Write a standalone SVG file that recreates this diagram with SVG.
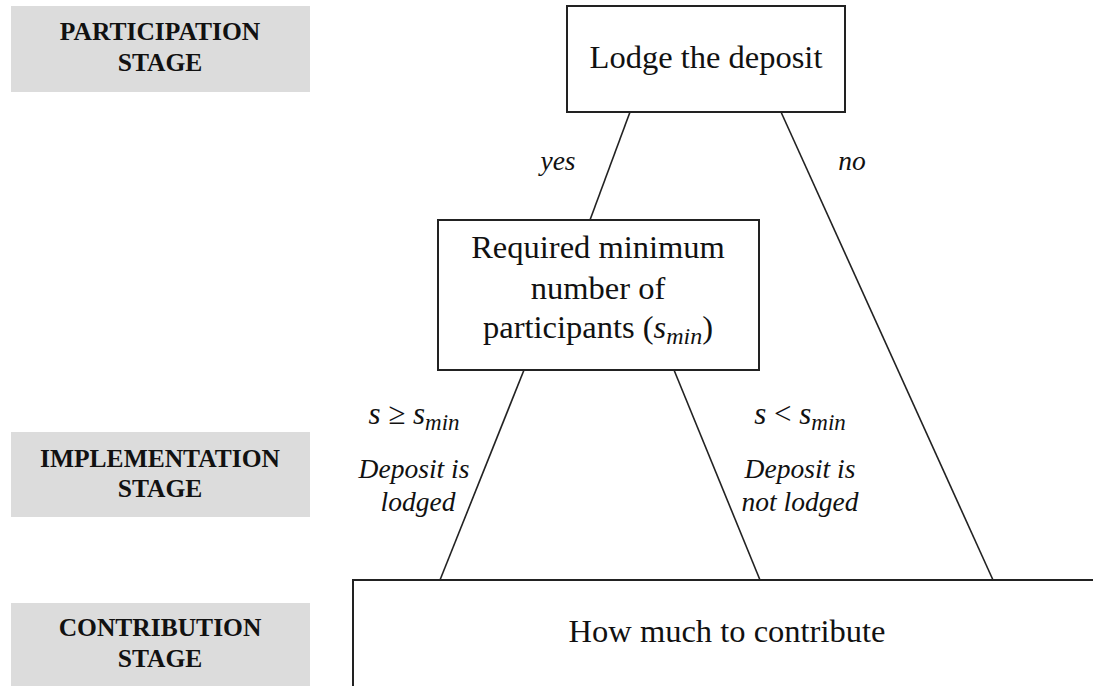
<svg xmlns="http://www.w3.org/2000/svg" width="1093" height="686" viewBox="0 0 1093 686">
<style>
.stage{fill:#dcdcdc;}
.st{font-family:"Liberation Serif","Times New Roman",serif;font-weight:bold;font-size:25.5px;fill:#111;text-anchor:middle;}
.box{fill:#fff;stroke:#222;stroke-width:2;}
.bt{font-family:"Liberation Serif","Times New Roman",serif;font-size:32.5px;fill:#111;text-anchor:middle;}
.lbl{font-family:"Liberation Serif","Times New Roman",serif;font-style:italic;font-size:27.5px;fill:#111;text-anchor:middle;}
.math{font-family:"Liberation Serif","Times New Roman",serif;font-size:31px;fill:#111;text-anchor:middle;}
.conn line{stroke:#222;stroke-width:1.6;}
</style>
<rect width="1093" height="686" fill="#fff"/>
<g id="stage-participation"><rect class="stage" x="11" y="6" width="299" height="86"/>
<text class="st" x="160" y="40">PARTICIPATION</text><text class="st" x="160" y="71">STAGE</text></g>
<g id="stage-implementation"><rect class="stage" x="11" y="432" width="299" height="85"/>
<text class="st" x="160" y="467">IMPLEMENTATION</text><text class="st" x="160" y="497">STAGE</text></g>
<g id="stage-contribution"><rect class="stage" x="11" y="603" width="299" height="90"/>
<text class="st" x="160" y="636">CONTRIBUTION</text><text class="st" x="160" y="667">STAGE</text></g>
<g class="conn" id="connectors">
<line x1="630" y1="112" x2="590" y2="220"/>
<line x1="781" y1="112" x2="993" y2="580"/>
<line x1="524" y1="370" x2="440" y2="580"/>
<line x1="674" y1="370" x2="760" y2="580"/>
</g>
<g id="lodge"><rect class="box" x="567" y="6" width="278" height="106"/>
<text class="bt" x="706" y="68">Lodge the deposit</text></g>
<g id="required"><rect class="box" x="438" y="220" width="321" height="150"/>
<text class="bt" x="598" y="258">Required minimum</text>
<text class="bt" x="598" y="299">number of</text>
<text class="bt" x="598" y="338">participants (<tspan font-style="italic">s</tspan><tspan font-style="italic" font-size="24" dy="6">min</tspan><tspan dy="-6">)</tspan></text></g>
<g id="contribute"><rect class="box" x="353" y="580" width="760" height="120"/>
<text class="bt" x="727" y="642">How much to contribute</text></g>
<g id="labels">
<text class="lbl" x="558" y="170">yes</text>
<text class="lbl" x="852" y="170">no</text>
<text class="math" x="414" y="424"><tspan font-style="italic">s</tspan> ≥ <tspan font-style="italic">s</tspan><tspan font-style="italic" font-size="23" dy="6">min</tspan></text>
<text class="lbl" x="414" y="478">Deposit is</text>
<text class="lbl" x="418" y="511">lodged</text>
<text class="math" x="800" y="424"><tspan font-style="italic">s</tspan> &lt; <tspan font-style="italic">s</tspan><tspan font-style="italic" font-size="23" dy="6">min</tspan></text>
<text class="lbl" x="800" y="478">Deposit is</text>
<text class="lbl" x="800" y="511">not lodged</text>
</g>
</svg>
